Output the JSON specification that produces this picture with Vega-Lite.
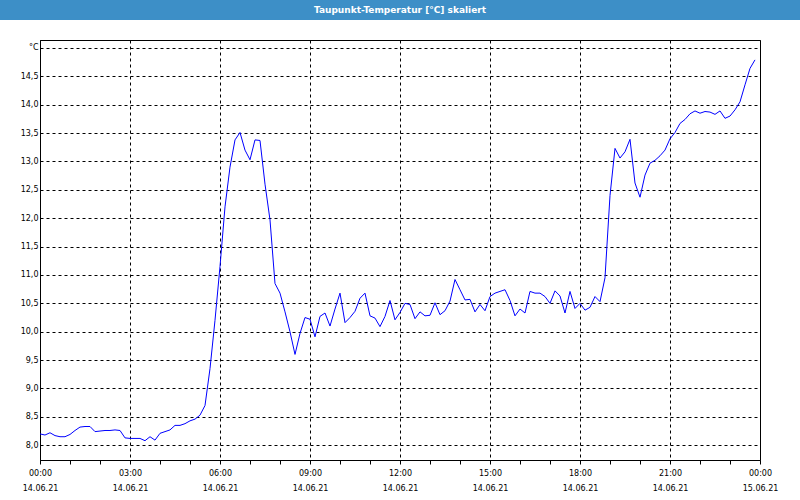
{
  "$schema": "https://vega.github.io/schema/vega-lite/v6.json",
  "padding": 0,
  "background": "white",
  "spacing": 20,
  "center": true,
  "bounds": "flush",
  "config": {"view": {"stroke": "black"}},
  "vconcat": [
    {
      "width": 800,
      "height": 20,
      "view": {"fill": "#3d8fc7", "stroke": null},
      "data": {"values": [{"title": "Taupunkt-Temperatur [°C] skaliert"}]},
      "mark": {"type": "text", "color": "white", "font": "DejaVu Sans", "fontWeight": "bold", "fontSize": 9, "baseline": "middle", "align": "center"},
      "encoding": {"text": {"field": "title"}}
    },
    {
      "width": 720,
      "height": 420,
      "data": {"values": [
          {"h":0.0,"v":8.20},{"h":0.1667,"v":8.18},{"h":0.3333,"v":8.22},{"h":0.5,"v":8.17},{"h":0.6667,"v":8.15},{"h":0.8333,"v":8.15},
          {"h":1.0,"v":8.19},{"h":1.1667,"v":8.26},{"h":1.3333,"v":8.32},{"h":1.5,"v":8.33},{"h":1.6667,"v":8.33},{"h":1.8333,"v":8.24},
          {"h":2.0,"v":8.25},{"h":2.1667,"v":8.26},{"h":2.3333,"v":8.26},{"h":2.5,"v":8.27},{"h":2.6667,"v":8.26},{"h":2.8333,"v":8.13},
          {"h":3.0,"v":8.12},{"h":3.1667,"v":8.12},{"h":3.3333,"v":8.12},{"h":3.5,"v":8.08},{"h":3.6667,"v":8.15},{"h":3.8333,"v":8.09},
          {"h":4.0,"v":8.21},{"h":4.1667,"v":8.24},{"h":4.3333,"v":8.27},{"h":4.5,"v":8.35},{"h":4.6667,"v":8.35},{"h":4.8333,"v":8.38},
          {"h":5.0,"v":8.43},{"h":5.1667,"v":8.46},{"h":5.3333,"v":8.53},{"h":5.5,"v":8.70},{"h":5.6667,"v":9.35},{"h":5.8333,"v":10.20},
          {"h":6.0,"v":11.15},{"h":6.1667,"v":12.20},{"h":6.3333,"v":12.90},{"h":6.5,"v":13.38},{"h":6.6667,"v":13.51},{"h":6.8333,"v":13.20},
          {"h":7.0,"v":13.03},{"h":7.1667,"v":13.38},{"h":7.3333,"v":13.37},{"h":7.5,"v":12.60},{"h":7.6667,"v":11.97},{"h":7.8333,"v":10.85},
          {"h":8.0,"v":10.68},{"h":8.1667,"v":10.35},{"h":8.3333,"v":10.00},{"h":8.5,"v":9.60},{"h":8.6667,"v":9.97},{"h":8.8333,"v":10.25},
          {"h":9.0,"v":10.22},{"h":9.1667,"v":9.91},{"h":9.3333,"v":10.27},{"h":9.5,"v":10.33},{"h":9.6667,"v":10.10},{"h":9.8333,"v":10.40},
          {"h":10.0,"v":10.68},{"h":10.1667,"v":10.16},{"h":10.3333,"v":10.25},{"h":10.5,"v":10.36},{"h":10.6667,"v":10.59},{"h":10.8333,"v":10.68},
          {"h":11.0,"v":10.28},{"h":11.1667,"v":10.24},{"h":11.3333,"v":10.09},{"h":11.5,"v":10.27},{"h":11.6667,"v":10.55},{"h":11.8333,"v":10.21},
          {"h":12.0,"v":10.34},{"h":12.1667,"v":10.50},{"h":12.3333,"v":10.48},{"h":12.5,"v":10.23},{"h":12.6667,"v":10.35},{"h":12.8333,"v":10.28},
          {"h":13.0,"v":10.29},{"h":13.1667,"v":10.51},{"h":13.3333,"v":10.30},{"h":13.5,"v":10.37},{"h":13.6667,"v":10.54},{"h":13.8333,"v":10.92},
          {"h":14.0,"v":10.74},{"h":14.1667,"v":10.56},{"h":14.3333,"v":10.57},{"h":14.5,"v":10.35},{"h":14.6667,"v":10.48},{"h":14.8333,"v":10.37},
          {"h":15.0,"v":10.62},{"h":15.1667,"v":10.68},{"h":15.3333,"v":10.71},{"h":15.5,"v":10.74},{"h":15.6667,"v":10.55},{"h":15.8333,"v":10.28},
          {"h":16.0,"v":10.40},{"h":16.1667,"v":10.33},{"h":16.3333,"v":10.71},{"h":16.5,"v":10.68},{"h":16.6667,"v":10.68},{"h":16.8333,"v":10.62},
          {"h":17.0,"v":10.50},{"h":17.1667,"v":10.72},{"h":17.3333,"v":10.63},{"h":17.5,"v":10.33},{"h":17.6667,"v":10.71},{"h":17.8333,"v":10.41},
          {"h":18.0,"v":10.50},{"h":18.1667,"v":10.38},{"h":18.3333,"v":10.43},{"h":18.5,"v":10.62},{"h":18.6667,"v":10.53},{"h":18.8333,"v":10.95},
          {"h":19.0,"v":12.40},{"h":19.1667,"v":13.23},{"h":19.3333,"v":13.06},{"h":19.5,"v":13.17},{"h":19.6667,"v":13.39},{"h":19.8333,"v":12.62},
          {"h":20.0,"v":12.37},{"h":20.1667,"v":12.76},{"h":20.3333,"v":12.97},{"h":20.5,"v":13.02},{"h":20.6667,"v":13.10},{"h":20.8333,"v":13.20},
          {"h":21.0,"v":13.40},{"h":21.1667,"v":13.51},{"h":21.3333,"v":13.67},{"h":21.5,"v":13.74},{"h":21.6667,"v":13.84},{"h":21.8333,"v":13.89},
          {"h":22.0,"v":13.85},{"h":22.1667,"v":13.88},{"h":22.3333,"v":13.87},{"h":22.5,"v":13.83},{"h":22.6667,"v":13.89},{"h":22.8333,"v":13.76},
          {"h":23.0,"v":13.80},{"h":23.1667,"v":13.91},{"h":23.3333,"v":14.05},{"h":23.5,"v":14.35},{"h":23.6667,"v":14.64},{"h":23.8333,"v":14.79}
      ]},
      "mark": {"type": "line", "color": "#0000ff", "strokeWidth": 1},
      "encoding": {
        "x": {
          "field": "h",
          "type": "quantitative",
          "scale": {"domain": [0, 24], "nice": false, "zero": false},
          "axis": {
            "title": null,
            "values": [0, 1, 2, 3, 4, 5, 6, 7, 8, 9, 10, 11, 12, 13, 14, 15, 16, 17, 18, 19, 20, 21, 22, 23, 24],
            "labelExpr": "datum.value % 3 != 0 ? '' : [(datum.value % 24 < 10 ? '0' : '') + (datum.value % 24) + ':00', datum.value == 24 ? '15.06.21' : '14.06.21']",
            "labelFont": "DejaVu Sans",
            "labelFontSize": 8,
            "labelColor": "black",
            "labelLineHeight": 15,
            "labelPadding": 5,
            "labelFlush": false,
            "labelOverlap": false,
            "labelBound": false,
            "tickSize": 4,
            "tickColor": "black",
            "domainColor": "black",
            "gridColor": "black",
            "gridDash": [3, 3],
            "gridOpacity": {"condition": {"test": "datum.value % 3 == 0", "value": 1}, "value": 0}
          }
        },
        "y": {
          "field": "v",
          "type": "quantitative",
          "scale": {"domain": [7.74, 15.14], "nice": false, "zero": false},
          "axis": {
            "title": null,
            "values": [8, 8.5, 9, 9.5, 10, 10.5, 11, 11.5, 12, 12.5, 13, 13.5, 14, 14.5, 15],
            "labelExpr": "datum.value == 15 ? '°C' : replace(format(datum.value, '.1f'), '.', ',')",
            "labelFont": "DejaVu Sans",
            "labelFontSize": 8,
            "labelColor": "black",
            "ticks": false,
            "domainColor": "black",
            "gridColor": "black",
            "gridDash": [3, 3]
          }
        }
      }
    }
  ]
}
